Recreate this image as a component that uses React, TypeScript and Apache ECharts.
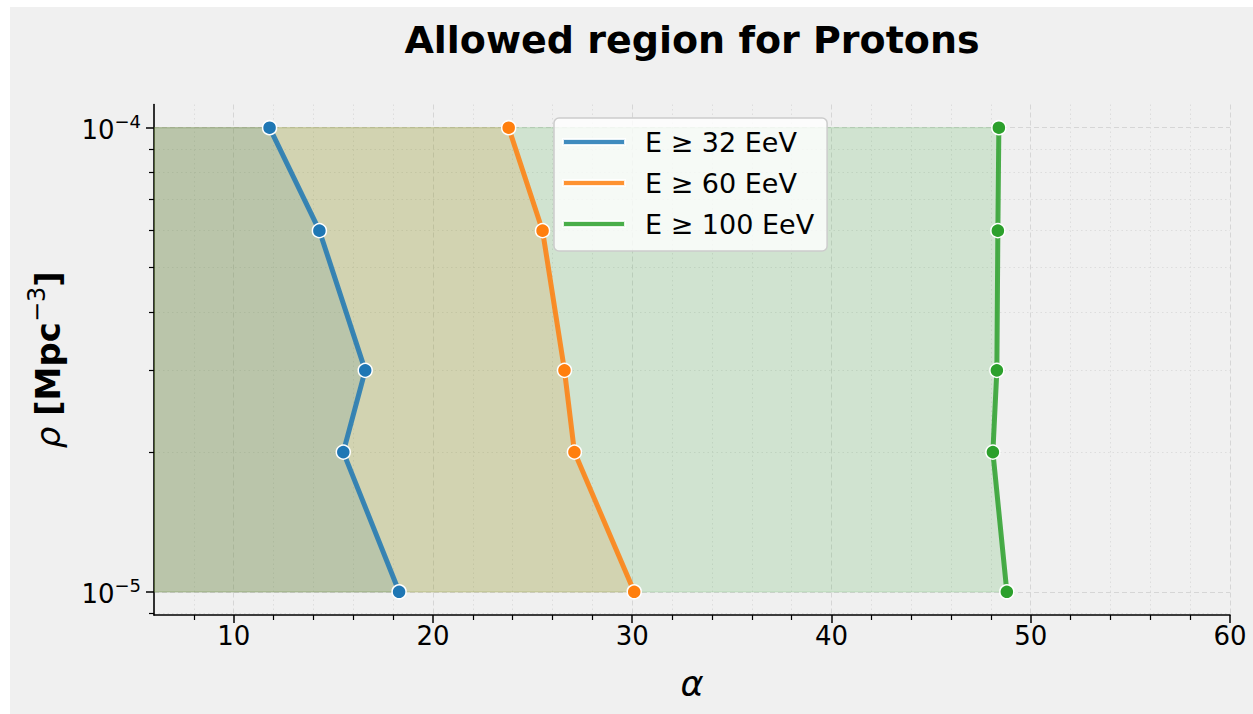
import React, { useEffect, useRef } from 'react';
import * as echarts from 'echarts';

// ---- data ----
const rho = [1e-4, 6e-5, 3e-5, 2e-5, 1e-5];
const alpha32 = [11.8, 14.3, 16.6, 15.5, 18.3];
const alpha60 = [23.8, 25.5, 26.6, 27.1, 30.1];
const alpha100 = [48.4, 48.35, 48.3, 48.1, 48.8];
const seriesNames = ['E ≥ 32 EeV', 'E ≥ 60 EeV', 'E ≥ 100 EeV'];
const seriesAlphas = [alpha32, alpha60, alpha100];
const colors = ['#1f77b4', '#ff7f0e', '#2ca02c'];

const xMajorTicks = [10, 20, 30, 40, 50, 60];
const xMinorTicks = [8, 12, 14, 16, 18, 22, 24, 26, 28, 32, 34, 36, 38, 42, 44, 46, 48, 52, 54, 56, 58];
const yMajorTicks = [1e-5, 1e-4];
const yMinorTicks = [9e-6, 2e-5, 3e-5, 4e-5, 5e-5, 6e-5, 7e-5, 8e-5, 9e-5];

const X_MIN = 6;
const X_MAX = 60;
const Y_MIN = Math.pow(10, -5.05);
const Y_MAX = Math.pow(10, -3.95);

const FONT = "'DejaVu Sans', sans-serif";

const powLabel = (v: number) => {
  const e = Math.round(Math.log10(v));
  return '{n|10}{s|' + String(e).replace('-', '−') + '}';
};

export default function App() {
  const ref = useRef<HTMLDivElement>(null);

  useEffect(() => {
    if (!ref.current) return;
    const chart = echarts.init(ref.current, null, { renderer: 'svg' });

    const fillSeries = seriesAlphas.map((arr, i) => ({
      type: 'custom',
      name: 'fill' + i,
      coordinateSystem: 'cartesian2d',
      xAxisIndex: 0,
      yAxisIndex: 0,
      silent: true,
      clip: true,
      z: 1,
      data: [[X_MIN, rho[0]]],
      renderItem: (_p: any, api: any) => {
        const pts: number[][] = [[X_MIN, rho[0]]];
        arr.forEach((a, j) => pts.push([a, rho[j]]));
        pts.push([X_MIN, rho[rho.length - 1]]);
        return {
          type: 'polygon',
          shape: { points: pts.map((p) => api.coord(p)) },
          style: { fill: colors[i], stroke: colors[i], lineWidth: 1.2, opacity: 0.16 },
        };
      },
    }));

    const lineSeries = seriesAlphas.map((arr, i) => ({
      type: 'line',
      name: seriesNames[i],
      xAxisIndex: 0,
      yAxisIndex: 0,
      data: arr.map((a, j) => [a, rho[j]]),
      symbol: 'circle',
      symbolSize: 14,
      showSymbol: true,
      lineStyle: { width: 5, color: colors[i], opacity: 0.85 },
      itemStyle: { color: colors[i], borderColor: '#ffffff', borderWidth: 1.5 },
      z: 3,
      emphasis: { disabled: true },
    }));

    const option: any = {
      animation: false,
      backgroundColor: 'transparent',
      title: {
        text: 'Allowed region for Protons',
        left: 692,
        top: 40,
        padding: 0,
        textAlign: 'center',
        textVerticalAlign: 'middle',
        textStyle: { fontFamily: FONT, fontWeight: 'bold', fontSize: 38, color: '#000' },
      },
      legend: {
        data: seriesNames,
        left: 554,
        top: 118,
        orient: 'vertical',
        icon: 'rect',
        itemWidth: 62,
        itemHeight: 6,
        itemGap: 11,
        padding: [9, 13, 12, 8],
        backgroundColor: 'rgba(255,255,255,0.8)',
        borderColor: '#cccccc',
        borderWidth: 1.5,
        borderRadius: 5,
        itemStyle: { opacity: 0.85 },
        textStyle: { fontFamily: FONT, fontSize: 27, color: '#000', lineHeight: 30, padding: [0, 0, 0, 15] },
      },
      grid: { left: 154, right: 23, top: 104.5, bottom: 99, containLabel: false },
      xAxis: [
        {
          type: 'value',
          min: X_MIN,
          max: X_MAX,
          position: 'bottom',
          axisLine: { show: true, lineStyle: { color: '#000', width: 1.6 } },
          axisTick: { show: true, customValues: xMajorTicks, length: 8, lineStyle: { color: '#000', width: 1.5 } },
          axisLabel: { customValues: xMajorTicks, fontFamily: FONT, fontSize: 26, color: '#000', margin: 8 },
          splitLine: { show: true, lineStyle: { color: '#d6d6d6', width: 1, type: [5, 3] } },
          name: 'α',
          nameLocation: 'middle',
          nameGap: 51,
          nameTextStyle: { fontFamily: FONT, fontSize: 35, fontStyle: 'italic', color: '#000' },
        },
        {
          type: 'value',
          min: X_MIN,
          max: X_MAX,
          position: 'bottom',
          axisLine: { show: false },
          axisTick: { show: true, customValues: xMinorTicks, length: 5, lineStyle: { color: '#000', width: 1.2 } },
          axisLabel: { show: false },
          splitLine: { show: true, lineStyle: { color: '#dddddd', width: 1, type: [1.5, 3] } },
        },
      ],
      yAxis: [
        {
          type: 'log',
          logBase: 10,
          min: Y_MIN,
          max: Y_MAX,
          position: 'left',
          axisLine: { show: true, lineStyle: { color: '#000', width: 1.6 } },
          axisTick: { show: true, customValues: yMajorTicks, length: 8, lineStyle: { color: '#000', width: 1.5 } },
          axisLabel: {
            customValues: yMajorTicks,
            formatter: (v: number) => powLabel(v),
            margin: 13,
            rich: {
              n: { fontFamily: FONT, fontSize: 26, color: '#000', lineHeight: 30, verticalAlign: 'bottom' },
              s: { fontFamily: FONT, fontSize: 18, color: '#000', lineHeight: 18, verticalAlign: 'top' },
            },
          },
          splitLine: { show: true, lineStyle: { color: '#d6d6d6', width: 1, type: [5, 3] } },
          name: '{i|ρ} {b|[Mpc}{s|−3}{b|]}',
          nameLocation: 'middle',
          nameGap: 89,
          nameRotate: 90,
          nameTextStyle: {
            fontFamily: FONT,
            fontSize: 34,
            color: '#000',
            rich: {
              i: { fontFamily: FONT, fontSize: 34, fontStyle: 'italic', color: '#000', lineHeight: 40, verticalAlign: 'bottom' },
              b: { fontFamily: FONT, fontSize: 34, fontWeight: 'bold', color: '#000', lineHeight: 40, verticalAlign: 'bottom' },
              s: { fontFamily: FONT, fontSize: 24, color: '#000', lineHeight: 24, verticalAlign: 'top' },
            },
          },
        },
        {
          type: 'log',
          logBase: 10,
          min: Y_MIN,
          max: Y_MAX,
          position: 'left',
          axisLine: { show: false },
          axisTick: { show: true, customValues: yMinorTicks, length: 5, lineStyle: { color: '#000', width: 1.2 } },
          axisLabel: { show: false },
          splitLine: { show: true, lineStyle: { color: '#dddddd', width: 1, type: [1.5, 3] } },
        },
      ],
      series: [...fillSeries, ...lineSeries],
    };

    chart.setOption(option);
    return () => chart.dispose();
  }, []);

  return (
    <div style={{ position: 'fixed', left: 0, top: 0, width: 1253, height: 714, background: '#ffffff' }}>
      <div style={{ position: 'absolute', left: 10, top: 7, right: 0, bottom: 0, background: '#f0f0f0' }} />
      <div ref={ref} style={{ position: 'absolute', left: 0, top: 0, width: 1253, height: 714 }} />
    </div>
  );
}
